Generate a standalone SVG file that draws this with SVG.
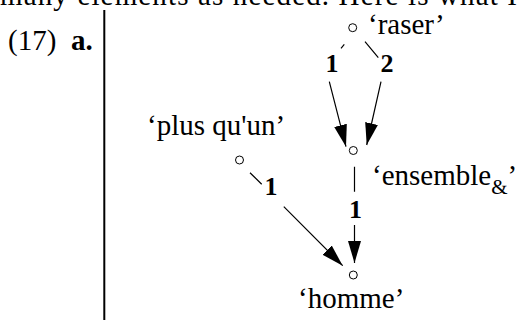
<svg xmlns="http://www.w3.org/2000/svg" width="519" height="320" viewBox="0 0 519 320">
<defs>
<style>
.t{font-family:"Liberation Serif","Times New Roman",serif;font-size:29px;fill:#000}
.b{font-family:"Liberation Serif","Times New Roman",serif;font-size:26px;font-weight:bold;fill:#000;text-anchor:middle}
.n{fill:#fff;stroke:#000;stroke-width:1}
.e{fill:none;stroke:#000;stroke-width:1.2}
</style>
<marker id="ah" markerUnits="userSpaceOnUse" markerWidth="22" markerHeight="14" refX="22" refY="6.5" orient="auto">
<path d="M0,0 L22,6.5 L0,13 z" fill="#000"/>
</marker>
</defs>
<rect width="519" height="320" fill="#fff"/>
<text class="t" x="0" y="5" font-size="30" textLength="517" lengthAdjust="spacing">many elements as needed. Here is what I</text>
<text class="t" x="8" y="50" font-size="32">(17)</text>
<text class="t" x="71" y="50" font-size="31" font-weight="bold">a.</text>
<line x1="104.3" y1="10" x2="104.3" y2="320" stroke="#000" stroke-width="2"/>
<g id="connectors">
<path class="e" d="M344.3,44.3 L341,48.3 M329.3,81.7 L346,146.7" marker-end="url(#ah)"/>
<path class="e" d="M365,41.7 L378.3,57.7 M381,81.7 L366.7,145" marker-end="url(#ah)"/>
<path class="e" d="M354.5,166.7 L354.5,191.7 M354.5,225 L354.5,263" marker-end="url(#ah)"/>
<path class="e" d="M250,172.7 L261.7,184.3 M283.8,206.7 L342.7,265.7" marker-end="url(#ah)"/>
<text class="b" x="332" y="72">1</text>
<text class="b" x="387" y="72">2</text>
<text class="b" x="271" y="195">1</text>
<text class="b" x="355.5" y="218">1</text>
</g>
<g id="raser">
<circle class="n" cx="352.7" cy="27.7" r="4"/>
<text class="t" x="368" y="34">‘raser’</text>
</g>
<g id="ensemble">
<circle class="n" cx="353.3" cy="150.5" r="4"/>
<text class="t" x="372" y="185">‘ensemble<tspan font-size="21" dy="9">&amp;</tspan><tspan dy="-9">’</tspan></text>
</g>
<g id="plus">
<circle class="n" cx="239.5" cy="160" r="4"/>
<text class="t" x="147" y="135">‘plus qu'un’</text>
</g>
<g id="homme">
<circle class="n" cx="353.3" cy="275" r="4"/>
<text class="t" x="298" y="308">‘homme’</text>
</g>
</svg>
